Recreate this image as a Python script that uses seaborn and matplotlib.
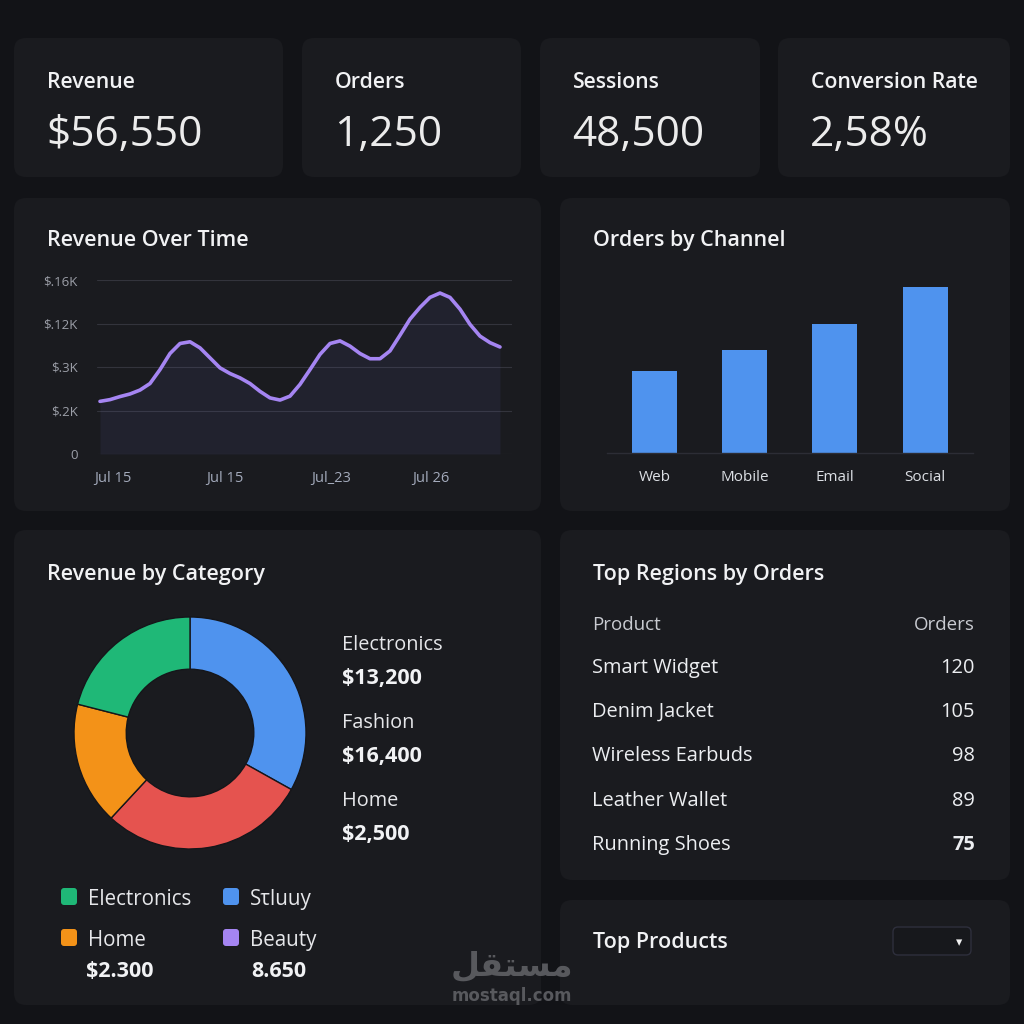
import matplotlib
matplotlib.use("Agg")
import matplotlib.pyplot as plt
from matplotlib.patches import FancyBboxPatch
import seaborn as sns

# ---- data ----
kpi_labels = ["Revenue", "Orders", "Sessions", "Conversion Rate"]
kpi_values = ["$56,550", "1,250", "48,500", "2,58%"]

# revenue curve, one sample every 10 px along the chart
rev_points = list(range(41))
rev_values = [1.21, 1.25, 1.32, 1.38, 1.47, 1.62, 1.94, 2.31, 2.54, 2.58,
              2.44, 2.21, 1.98, 1.85, 1.75, 1.62, 1.44, 1.29, 1.24, 1.33,
              1.60, 1.94, 2.29, 2.54, 2.60, 2.48, 2.31, 2.19, 2.19, 2.37,
              2.73, 3.10, 3.37, 3.60, 3.70, 3.60, 3.33, 2.98, 2.71, 2.56, 2.46]
rev_ticks = ["0", "$.2K", "$.3K", "$.12K", "$.16K"]
date_ticks = ["Jul 15", "Jul 15", "Jul_23", "Jul 26"]

channels = ["Web", "Mobile", "Email", "Social"]
channel_orders = [410, 513, 645, 832]

category_share = [33.1, 28.8, 17.1, 21.0]
category_colors = ["#4f93ee", "#e5534f", "#f39218", "#1fb877"]
donut_labels = ["Electronics", "Fashion", "Home"]
donut_amounts = ["$13,200", "$16,400", "$2,500"]
legend_names = ["Electronics", "Sτluuy", "Home", "Beauty"]
legend_colors = ["#1fb877", "#4f93ee", "#f39218", "#a585f2"]
legend_amounts = ["$2.300", "8.650"]

products = ["Smart Widget", "Denim Jacket", "Wireless Earbuds", "Leather Wallet", "Running Shoes"]
product_orders = [120, 105, 98, 89, 75]

# ---- style ----
sns.set_theme(style="dark")
plt.rcParams['font.family'] = ['Open Sans', 'DejaVu Sans']

BG = '#121317'
CARD = '#1a1b1f'
WHITE = '#f1f2f4'
LINE = '#a585f2'
W = H = 1024

fig = plt.figure(figsize=(10.24, 10.24), dpi=100, facecolor=BG)


def fx(x):
    return x / W


def fy(y):
    return 1 - y / H


def card(x0, y0, x1, y1, r=12, fc=CARD, ec='none', lw=0, z=-10):
    p = FancyBboxPatch((fx(x0), fy(y1)), (x1 - x0) / W, (y1 - y0) / H,
                       boxstyle=f"round,pad=0,rounding_size={r / W}",
                       transform=fig.transFigure, facecolor=fc, edgecolor=ec,
                       linewidth=lw, zorder=z)
    fig.add_artist(p)
    return p


def txt(x, y, s, size, color=WHITE, weight='normal', ha='left', **kw):
    fig.text(fx(x), fy(y), s, fontsize=size, color=color, fontweight=weight,
             ha=ha, va='baseline', **kw)


def axes_px(x0, y0, x1, y1):
    ax = fig.add_axes([fx(x0), fy(y1), (x1 - x0) / W, (y1 - y0) / H])
    ax.set_facecolor('none')
    return ax


# ---- cards ----
kpi_boxes = [(14, 283), (302, 521), (540, 760), (778, 1010)]
for (x0, x1), lab, val in zip(kpi_boxes, kpi_labels, kpi_values):
    card(x0, 38, x1, 177)
    txt(x0 + 33, 88, lab, 15.3, weight='semibold')
    txt(x0 + 32, 146, val, 30.5, color='#ececec')

card(14, 198, 541, 511)
card(560, 198, 1010, 511)
card(14, 530, 541, 1005)
card(560, 530, 1010, 880)
card(560, 900, 1010, 1005)

txt(47, 246, "Revenue Over Time", 15.5, weight='semibold')
txt(593, 246, "Orders by Channel", 15.5, weight='semibold')
txt(47, 580, "Revenue by Category", 15.5, weight='semibold')
txt(593, 580, "Top Regions by Orders", 15.5, weight='semibold')
txt(593, 948, "Top Products", 15.5, weight='semibold')

# ---- revenue over time ----
ax1 = axes_px(97, 280, 512, 454)
sns.lineplot(x=rev_points, y=rev_values, ax=ax1, color=LINE, linewidth=2.6, zorder=3)
ax1.fill_between(rev_points, rev_values, 0, color='#7f7ae0', alpha=0.08, lw=0, zorder=2)
ax1.set_xlim(-0.3, 41.2)
ax1.set_ylim(0, 4)
ax1.set_yticks(range(5))
ax1.set_yticklabels(rev_ticks)
ax1.set_xticks([1.3, 12.5, 23.1, 33.1])
ax1.set_xticklabels(date_ticks)
ax1.grid(axis='y', color='#33343c', lw=0.8)
ax1.grid(axis='x', visible=False)
ax1.set_axisbelow(True)
for s in ax1.spines.values():
    s.set_visible(False)
ax1.tick_params(axis='y', length=0, pad=14, labelsize=9.5, labelcolor='#9c9fa8')
ax1.tick_params(axis='x', length=0, pad=12, labelsize=10.5, labelcolor='#a3aabb')

# ---- orders by channel ----
ax2 = axes_px(607, 280, 973, 453)
sns.barplot(x=channels, y=channel_orders, ax=ax2, color="#4f93ee", saturation=1,
            width=0.5, edgecolor='none', linewidth=0)
ax2.set_xlim(-0.524, 3.53)
ax2.set_ylim(0, 865)
ax2.set_yticks([])
ax2.set_xlabel('')
ax2.set_ylabel('')
for k, s in ax2.spines.items():
    s.set_visible(k == 'bottom')
ax2.spines['bottom'].set_color('#2c2d35')
ax2.spines['bottom'].set_linewidth(1)
ax2.tick_params(axis='x', length=0, pad=12, labelsize=11, labelcolor='#dcdfe4')

# ---- revenue by category ----
ax3 = axes_px(74, 617, 306, 849)
ax3.pie(category_share, colors=category_colors, startangle=90, counterclock=False,
        radius=1, wedgeprops=dict(width=0.45, edgecolor='#15161a', linewidth=1))
ax3.set_xlim(-1, 1)
ax3.set_ylim(-1, 1)
ax3.set_aspect('equal')
ax3.axis('off')

for i, (lab, amt) in enumerate(zip(donut_labels, donut_amounts)):
    y = 650 + i * 78
    txt(342, y, lab, 14.3, color='#e6e7ea')
    txt(342, y + 34, amt, 15.5, weight='bold')

legend_pos = [(61, 888), (223, 888), (61, 929), (223, 929)]
for (lx, ly), name, col in zip(legend_pos, legend_names, legend_colors):
    card(lx, ly, lx + 16, ly + 17, r=3, fc=col, z=5)
    txt(lx + 27, ly + 17, name, 14.8, color='#e6e7ea')
txt(86, 977, legend_amounts[0], 15.5, weight='bold')
txt(251, 977, legend_amounts[1], 15.5, weight='bold')

# ---- top regions table ----
txt(592, 630, "Product", 13.5, color='#c9cbd1')
txt(975, 630, "Orders", 13.5, color='#c9cbd1', ha='right')
for i, (name, n) in enumerate(zip(products, product_orders)):
    y = 673 + i * 44.2
    txt(592, y, name, 14.4, color='#eceef1')
    txt(975, y, str(n), 14.4, color='#eceef1', ha='right',
        weight='bold' if i == len(products) - 1 else 'normal')

# ---- dropdown ----
card(893, 927, 971, 955, r=5, fc='#17181c', ec='#2e2f3c', lw=1, z=-5)
txt(959, 946, "▾", 9, color='#f0f0f0', ha='center', family='DejaVu Sans')

# ---- watermark ----
fig.text(fx(512), fy(976), "\uFEDE\uFED8\uFE98\uFEB4\uFEE3", fontsize=24, color='#5f6065',
         ha='center', va='baseline', family='DejaVu Sans', fontweight='bold', alpha=0.9)
fig.text(fx(512), fy(1001), "mostaql.com", fontsize=12, color='#5f6065',
         ha='center', va='baseline', family='DejaVu Sans', fontweight='bold', alpha=0.9)

fig.savefig("out.png", dpi=100, facecolor=BG)
